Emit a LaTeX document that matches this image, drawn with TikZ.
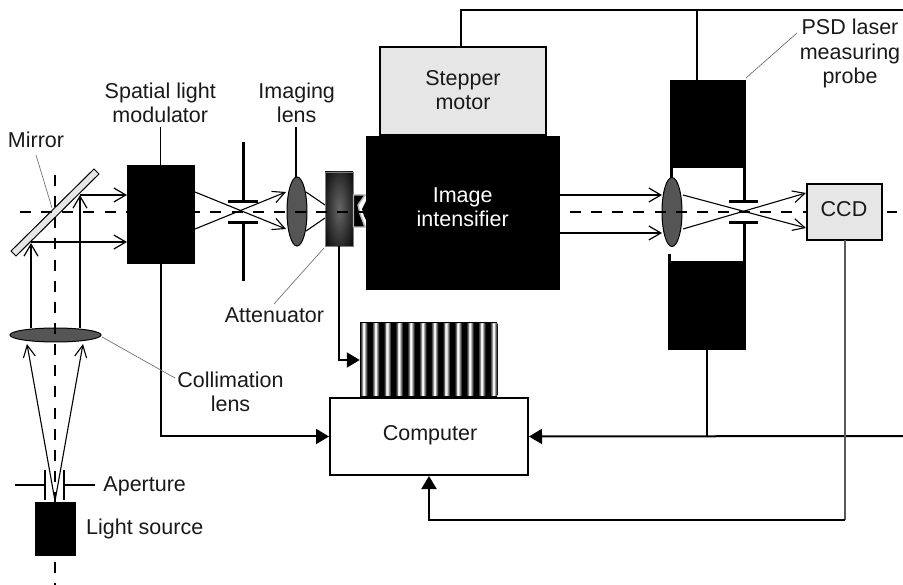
\documentclass[tikz,border=0pt]{standalone}
\usepackage{fontspec}
\setmainfont{Liberation Sans}
\usetikzlibrary{arrows.meta,shapes.geometric,calc}
\definecolor{lensgray}{HTML}{555555}
\definecolor{boxgray}{HTML}{E6E6E6}
\tikzset{
  solid box/.style={rectangle,fill=black,draw=none,inner sep=0pt,outer sep=0pt},
  gray box/.style={rectangle,fill=boxgray,draw=black,line width=1.7pt,inner sep=0pt,outer sep=0pt},
  lensnode/.style={ellipse,fill=lensgray,draw=black,line width=1pt,inner sep=0pt,outer sep=0pt},
  label text/.style={font=\fontsize{21.5}{24.5}\selectfont,text=black!90,align=center,inner sep=0pt,outer sep=0pt,anchor=base},
  beam/.style={line width=2pt,-{Straight Barb[length=12pt,width=14pt,line width=1.2pt]}},
  ray/.style={line width=1.1pt,-{Straight Barb[length=12pt,width=12pt,line width=1.1pt]}},
  plainray/.style={line width=1.1pt},
  wire/.style={line width=2pt},
  thinwire/.style={line width=1.1pt},
  leader/.style={line width=0.7pt,draw=black!55},
  filledtip/.style={-{Triangle[length=13pt,width=15pt]}},
  slit/.style={line width=2.8pt},
  axis/.style={line width=1.6pt,dash pattern=on 11pt off 10.15pt},
}
\begin{document}
\begin{tikzpicture}[x=1pt,y=-1pt]
\useasboundingbox (0,0) rectangle (903,585);
% mirror
\fill[boxgray,draw=black,line width=1pt] (94,169) -- (99,174) -- (16,256) -- (11,251) -- cycle;
\coordinate (mirrorA) at (31,243);
\coordinate (mirrorB) at (80,195);
% lenses and attenuator
\node[lensnode,minimum width=20pt,minimum height=69pt] (lensA) at (297,211.5) {};
\node[lensnode,minimum width=20pt,minimum height=69pt] (lensB) at (672,212) {};
\node[lensnode,minimum width=91pt,minimum height=14pt] (lensC) at (55.5,335) {};
\node[rectangle,draw=black!50,fill=black,line width=0.8pt,inner sep=0pt,minimum width=28pt,minimum height=74pt,
  path picture={\shade[inner color=black!60,outer color=black] (path picture bounding box.center) ellipse [x radius=20,y radius=62];}] (atten) at (339,209) {};
% image-plane fragment beside the intensifier
\fill[black,draw=black!30,line width=1.4pt] (353.5,195) -- (365,195) -- (358,205) -- (360,214) -- (365,227) -- (353.5,227) -- cycle;
\fill[black] (367,199) -- (362,209) -- (364,216) -- (367,222) -- cycle;
% optical axes
\coordinate (axisL) at (20,212);
\coordinate (axisR) at (897,212);
\coordinate (axisT) at (55,175);
\coordinate (axisB) at (55,502);
\coordinate (axisC) at (55,562);
\coordinate (axisD) at (55,585);
\draw[axis] (axisL) -- (axisR);
\draw[axis] (axisT) -- (axisB);
\draw[axis] (axisC) -- (axisD);
% black units
\node[solid box,minimum width=68pt,minimum height=99pt] (slm) at (161,214.5) {};
\node[solid box,minimum width=194pt,minimum height=154pt] (intens) at (463,213) {};
\node[gray box,minimum width=166pt,minimum height=88pt] (motor) at (463,91) {};
\node[solid box,minimum width=76pt,minimum height=88pt] (probeT) at (708,124) {};
\node[solid box,minimum width=78pt,minimum height=89pt] (probeB) at (707,305.5) {};
\node[gray box,minimum width=75pt,minimum height=56pt] (ccd) at (844.5,212) {};
\node[solid box,minimum width=41pt,minimum height=54pt] (source) at (55.5,529) {};
% computer and fringe screen
\node[rectangle,fill=black,inner sep=0pt,minimum width=137pt,minimum height=76pt] (fringe) at (428.5,360) {};
\foreach \k in {0,...,11}{
  \shade[left color=black,right color=black,middle color=white] ({360+11.8*\k},324) rectangle ({367.5+11.8*\k},396);
  \fill[white,opacity=0.6] ({362.7+11.8*\k},324) rectangle ({364.8+11.8*\k},396);
}
\node[rectangle,fill=white,draw=black,line width=2pt,inner sep=0pt,minimum width=198pt,minimum height=77pt] (comp) at (429,436.5) {};
% illumination path
\coordinate (srcTop) at (55,501);
\draw[ray] (srcTop) -- (27,344);
\draw[ray] (srcTop) -- (83,344);
\coordinate (lensCa) at (31,328);
\coordinate (lensCb) at (80,328);
\draw[beam] (lensCa) -- (mirrorA);
\draw[beam] (lensCb) -- (mirrorB);
\draw[beam] (mirrorA |- 0,242) -- (slm.west |- 0,242);
\draw[beam] (mirrorB) -- (slm.west |- mirrorB);
% source aperture
\coordinate (apL) at (15,485);
\coordinate (apLa) at (45,485);
\coordinate (apR) at (95,485);
\coordinate (apRa) at (64,485);
\draw[slit] (apL) -- (apLa);
\draw[slit] (apRa) -- (apR);
\draw[slit] (45,470) -- (45,500);
\draw[slit] (64,470) -- (64,500);
% rays SLM to imaging lens
\draw[ray] (195,192) -- (286,229);
\draw[ray] (195,229) -- (286,192);
\draw[line width=3pt] (243.5,142) -- (243.5,201);
\draw[line width=3pt] (243.5,222) -- (243.5,281);
\draw[slit] (228,201.3) -- (258,201.3);
\draw[slit] (228,222.3) -- (258,222.3);
% rays lens to attenuator
\draw[plainray] (306,192) -- (325,205);
\draw[plainray] (306,231) -- (325,218);
% intensifier output
\draw[beam] (intens.east |- 0,195) -- (lensB.west |- 0,195);
\draw[beam] (intens.east |- 0,233) -- (lensB.west |- 0,233);
% probe aperture and rays
\draw[ray] (683,195) -- (806,228);
\draw[ray] (683,229) -- (806,193);
\draw[line width=3pt] (744.5,168) -- (744.5,201);
\draw[line width=3pt] (744.5,222) -- (744.5,261);
\draw[slit] (729,201.3) -- (758,201.3);
\draw[slit] (729,222.3) -- (758,222.3);
\draw[line width=3pt] (671.5,168) -- (671.5,178);
\draw[line width=3pt] (669.5,254) -- (669.5,261);
% wiring
\coordinate (topJ) at (461,10);
\coordinate (topE) at (903,10);
\coordinate (wireE) at (903,436);
\coordinate (botJ) at (844.5,520);
\draw[wire] (motor.north -| topJ) -- (topJ) -- (topE);
\draw[wire] (topJ -| 697,0) -- (697,80);
\draw[wire,filledtip] (slm.south) |- (comp.west);
\draw[wire,filledtip] (atten.south) |- (fringe.west);
\draw[wire,filledtip] (wireE) -- (comp.east);
\draw[wire] (probeB.south) -- (probeB.south |- comp.east);
\draw[wire,draw=black!65] (ccd.south) -- (botJ);
\draw[wire,filledtip] (botJ) -| (comp.south);
% leaders
\draw[thinwire] (160.5,127) -- (slm.north -| 160.5,0);
\draw[thinwire] (296,127) -- (lensA.north -| 296,0);
\draw[leader] (36,155) -- (52,208);
\draw[leader] (102,337) -- (175,378);
\draw[leader] (324,248) -- (274,304);
\draw[leader] (746,78) -- (797,33);
% labels
\node[label text] (tSLM) at (160.3,122.7) {Spatial light\\modulator};
\node[label text] (tImg) at (296.7,122.7) {Imaging\\lens};
\node[label text] (tMir) at (36,148) {Mirror};
\node[label text] (tAtt) at (274.5,322.7) {Attenuator};
\node[label text] (tCol) at (230.5,411.7) {Collimation\\lens};
\node[label text] (tApe) at (144.7,491.7) {Aperture};
\node[label text] (tLig) at (144.7,534) {Light source};
\node[label text] (tCom) at (430,440) {Computer};
\node[label text] (tSte) at (463,110) {Stepper\\motor};
\node[label text,text=white] (tInt) at (462.7,226.7) {Image\\intensifier};
\node[label text] (tCCD) at (844,216.7) {CCD};
\node[label text] (tPSD) at (850,84) {PSD laser\\measuring\\probe};
\end{tikzpicture}
\end{document}
